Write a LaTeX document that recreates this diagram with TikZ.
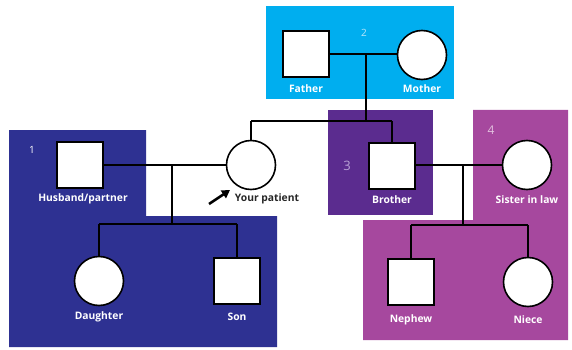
\documentclass[tikz,border=0pt]{standalone}
\usepackage{fontspec}
\setmainfont{Open Sans}
\usetikzlibrary{arrows.meta}
\definecolor{cyanbox}{HTML}{00AEEF}
\definecolor{navybox}{HTML}{2E3192}
\definecolor{purplebox}{HTML}{5B2C8F}
\definecolor{magbox}{HTML}{A6489E}
\definecolor{numcyan}{HTML}{B8E6FA}
\definecolor{numpurple}{HTML}{B9A3D6}
\definecolor{nummag}{HTML}{E3C2DF}
\tikzset{
  male/.style={draw=black,fill=white,line width=1.6pt,minimum size=46pt,inner sep=0pt},
  female/.style={draw=black,fill=white,line width=1.6pt,circle,minimum size=49pt,inner sep=0pt},
  lbl/.style={text=white,font=\bfseries\fontsize{10.3}{12}\selectfont,inner sep=0pt},
  num/.style={font=\fontsize{10}{11}\selectfont,inner sep=0pt},
  link/.style={line width=1.5pt,draw=black}
}
\begin{document}
\begin{tikzpicture}[x=1pt,y=-1pt]
\useasboundingbox (0,0) rectangle (572,350);
% background boxes
\fill[cyanbox] (266,6) rectangle (454,99);
\fill[navybox] (9,130) -- (146,130) -- (146,216) -- (277,216) -- (277,347) -- (9,347) -- cycle;
\fill[purplebox] (328,110) rectangle (433,215);
\fill[magbox] (473,110) -- (568,110) -- (568,340) -- (363,340) -- (363,220) -- (473,220) -- cycle;
% numbers
\node[num,text=numcyan] (n2) at (364,33) {2};
\node[num,text=white] (n1) at (32,150) {1};
\node[num,text=numpurple,font=\fontsize{13}{14}\selectfont] (n3) at (347,166) {3};
\node[num,text=nummag,font=\fontsize{12}{13}\selectfont] (n4) at (491,130) {4};
% coordinates for connectors
\coordinate (pm) at (366,54);
\coordinate (sib) at (366,121);
\coordinate (sibL) at (251,121);
\coordinate (sibR) at (392,121);
\coordinate (hm) at (172,165);
\coordinate (hc) at (172,224);
\coordinate (hcL) at (99,224);
\coordinate (hcR) at (237,224);
\coordinate (bm) at (463,165);
\coordinate (bc) at (463,225);
\coordinate (bcL) at (411,225);
\coordinate (bcR) at (528,225);
% lines (behind persons)
\draw[link] (306,54) -- (422,54);
\draw[link] (pm) -- (sib);
\draw[link] (sibL) -- (sibR);
\draw[link] (sibL) -- (251,165);
\draw[link] (sibR) -- (392,166);
\draw[link] (80,165) -- (251,165);
\draw[link] (hm) -- (hc);
\draw[link] (hcL) -- (hcR);
\draw[link] (hcL) -- (99,280);
\draw[link] (hcR) -- (237,281);
\draw[link] (392,165) -- (527,165);
\draw[link] (bm) -- (bc);
\draw[link] (bcL) -- (bcR);
\draw[link] (bcL) -- (411,282);
\draw[link] (bcR) -- (528,282);
% persons
\node[male] (father) at (306,54) {};
\node[female] (mother) at (422,55) {};
\node[male] (husband) at (80,165) {};
\node[female] (patient) at (251,165) {};
\node[male] (brother) at (392,166) {};
\node[female] (sister) at (527,165) {};
\node[female] (daughter) at (99,281) {};
\node[male] (son) at (237,281) {};
\node[male] (nephew) at (411,282) {};
\node[female] (niece) at (528,282) {};
% labels
\node[lbl] (lf) at (306,89) {Father};
\node[lbl] (lm) at (422,89) {Mother};
\node[lbl] (lh) at (83,199) {Husband/partner};
\node[lbl,text=black!85] (lp) at (267,199) {Your patient};
\node[lbl] (lb) at (392,200) {Brother};
\node[lbl] (ls) at (527,200) {Sister in law};
\node[lbl] (ld) at (99,317) {Daughter};
\node[lbl] (lso) at (237,317) {Son};
\node[lbl] (ln) at (411,320) {Nephew};
\node[lbl] (lni) at (528,320) {Niece};
% arrow
\coordinate (arrs) at (209,204);
\coordinate (arre) at (230,190);
\draw[line width=2.6pt,-{Triangle[length=8pt,width=9pt]}] (arrs) -- (arre);
\end{tikzpicture}
\end{document}
